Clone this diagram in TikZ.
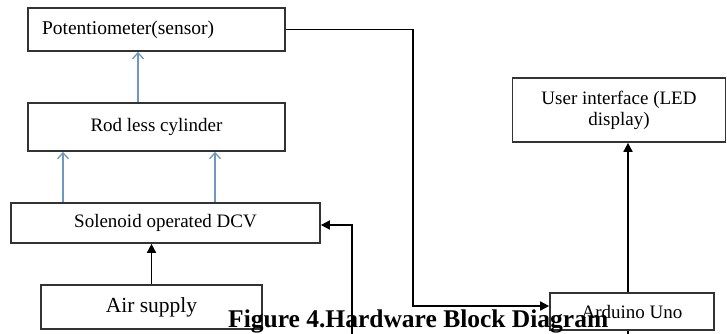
\documentclass[tikz,border=0pt]{standalone}
\usepackage{fontspec}
\setmainfont{Liberation Serif}
\usepackage{xcolor}
\usetikzlibrary{arrows.meta,calc,positioning}
\definecolor{edge}{HTML}{333333}
\definecolor{steel}{HTML}{7096C6}
\tikzset{
  flow/.style={-{Triangle[length=9pt,width=9pt]},line width=1.7pt,draw=black},
  blueflow/.style={-{Straight Barb[length=6pt,width=11pt]},line width=1.3pt,draw=steel},
  link/.style={line width=1.7pt,draw=black},
  block/.style={draw=edge,line width=1.7pt,rectangle,inner sep=0pt,align=center,
                font=\fontsize{19}{21}\selectfont}
}
\begin{document}
\begin{tikzpicture}[x=1pt,y=-1pt]
  \useasboundingbox[fill=white] (0,0) rectangle (727,334);
  % blocks
  \node[block,minimum width=257pt,minimum height=43pt,text width=229pt,inner xsep=14pt,align=left,font=\fontsize{19.5}{21}\selectfont] (pot) at (156.5,29.5) {Potentiometer(sensor)};
  \node[block,minimum width=257pt,minimum height=48pt] (rod) at (156.5,127) {Rod less cylinder};
  \node[block,minimum width=309pt,minimum height=40pt] (dcv) at (165.5,223) {Solenoid operated DCV};
  \node[block,minimum width=221pt,minimum height=44pt,font=\fontsize{21.5}{24}\selectfont] (air) at (151.5,307) {Air supply};
  \node[block,minimum width=213pt,minimum height=64pt] (ui) at (619,110) {User interface (LED\\display)};
  \node[block,minimum width=164pt,minimum height=37pt,fill=white] (uno) at (632,311.5) {Arduino Uno};
  \coordinate (fb) at (352,334);
  % connectors
  \draw[blueflow] ([xshift=-18.5pt]rod.north) -- ([xshift=-18.5pt]pot.south);
  \draw[blueflow] ([xshift=-102.5pt]dcv.north) -- ([xshift=-102.5pt]dcv.north |- rod.south);
  \draw[blueflow] ([xshift=49.5pt]dcv.north) -- ([xshift=49.5pt]dcv.north |- rod.south);
  \draw[flow] (air.north) -- (air.north |- dcv.south);
  \draw[flow] (fb) |- ([yshift=-2pt]dcv.east);
  \draw[flow] (pot.east) -| (413,306) -- (uno.west |- 413,306);
  \draw[flow] ([xshift=-4pt]uno.north) -- ([xshift=-4pt]uno.north |- ui.south);
  \draw[link] ([xshift=-4pt]uno.south) -- ++(0,4);
  % caption
  \node[anchor=base west,inner sep=0pt,font=\fontsize{25.5}{28}\bfseries\selectfont] (cap) at (228,327) {Figure 4.Hardware Block Diagram};
\end{tikzpicture}
\end{document}
